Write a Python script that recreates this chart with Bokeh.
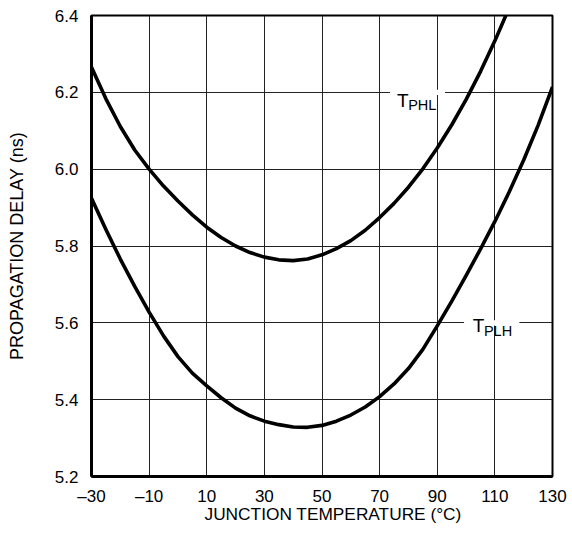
from bokeh.plotting import figure
from bokeh.models import FixedTicker, Label, BoxAnnotation, Range1d, Title
from bokeh.embed import file_html
from bokeh.resources import INLINE

# T_PHL curve
temps_phl = [-30, -25, -20, -15, -10, -5, 0, 5, 10, 15, 20, 25, 30, 35, 40, 45, 50,
             55, 60, 65, 70, 75, 80, 85, 90, 95, 100, 105, 110, 113.8]
delay_phl = [6.265, 6.183, 6.111, 6.050, 6.000, 5.956, 5.917, 5.881, 5.849, 5.822, 5.800,
             5.783, 5.771, 5.764, 5.762, 5.766, 5.777, 5.793, 5.814, 5.841, 5.874, 5.911,
             5.953, 6.001, 6.055, 6.115, 6.181, 6.254, 6.334, 6.400]

# T_PLH curve
temps_plh = [-30, -25, -20, -15, -10, -5, 0, 5, 10, 15, 20, 25, 30, 35, 40, 45, 50,
             55, 60, 65, 70, 75, 80, 85, 90, 95, 100, 105, 110, 115, 120, 125, 130]
delay_plh = [5.924, 5.843, 5.766, 5.695, 5.628, 5.566, 5.512, 5.469, 5.436, 5.405, 5.378,
             5.358, 5.344, 5.335, 5.329, 5.328, 5.333, 5.344, 5.360, 5.381, 5.408, 5.441,
             5.481, 5.531, 5.592, 5.656, 5.723, 5.792, 5.864, 5.941, 6.024, 6.114, 6.214]

x_ticks = [-30, -10, 10, 30, 50, 70, 90, 110, 130]
x_tick_labels = ["\u201330", "\u201310", "10", "30", "50", "70", "90", "110", "130"]
y_ticks = [5.2, 5.4, 5.6, 5.8, 6.0, 6.2, 6.4]
y_tick_labels = ["5.2", "5.4", "5.6", "5.8", "6.0", "6.2", "6.4"]

x_title = "JUNCTION TEMPERATURE (\u00b0C)"
y_title = "PROPAGATION DELAY (ns)"

FONT = "Liberation Sans"

p = figure(width=570, height=536, output_backend="svg", toolbar_location=None,
           x_range=Range1d(-30, 130), y_range=Range1d(5.2, 6.4),
           min_border_left=91, min_border_right=18, min_border_top=15, min_border_bottom=60)

p.xaxis.ticker = FixedTicker(ticks=x_ticks)
p.yaxis.ticker = FixedTicker(ticks=y_ticks)
p.xaxis.major_label_overrides = {t: l for t, l in zip(x_ticks, x_tick_labels)}
p.yaxis.major_label_overrides = {t: l for t, l in zip(y_ticks, y_tick_labels)}

for ax in (p.xaxis, p.yaxis):
    ax.major_tick_out = 0
    ax.major_tick_in = 0
    ax.minor_tick_out = 0
    ax.minor_tick_in = 0
    ax.axis_line_width = 3
    ax.axis_line_color = "black"
    ax.major_label_text_font = FONT
    ax.major_label_text_font_size = "17px"
    ax.major_label_text_color = "black"
    ax.axis_label_text_font = FONT
    ax.axis_label_text_font_size = "18px"
    ax.axis_label_text_font_style = "normal"
    ax.axis_label_text_color = "black"

p.yaxis.axis_label = y_title
p.xaxis.major_label_standoff = 10
p.yaxis.major_label_standoff = 13
p.yaxis.axis_label_standoff = 25

# x axis title, placed slightly right of centre as in the original
p.add_layout(Title(text=x_title, align="left", offset=113, standoff=-13,
                   text_font=FONT, text_font_size="17.3px", text_font_style="normal",
                   text_color="black"), "below")

p.grid.grid_line_color = "#222222"
p.grid.grid_line_width = 1
p.grid.grid_line_alpha = 1.0

p.outline_line_color = "black"
p.outline_line_width = 2
p.outline_line_alpha = 1.0

p.line(temps_phl, delay_phl, line_color="black", line_width=3.6, line_join="round")
p.line(temps_plh, delay_plh, line_color="black", line_width=3.6, line_join="round")

# label gaps in grid lines
p.add_layout(BoxAnnotation(left=73.6, right=92.7, bottom=6.193, top=6.207,
                           fill_color="white", fill_alpha=1.0, line_alpha=0))
p.add_layout(BoxAnnotation(left=99.3, right=118.5, bottom=5.593, top=5.607,
                           fill_color="white", fill_alpha=1.0, line_alpha=0))

def sub_label(x, y, main, sub):
    p.add_layout(Label(x=x, y=y, text=main, text_font=FONT, text_font_size="19px",
                       text_baseline="alphabetic", text_align="left", text_color="black"))
    p.add_layout(Label(x=x + 3.9, y=y - 0.013, text=sub, text_font=FONT, text_font_size="14.5px",
                       text_baseline="alphabetic", text_align="left", text_color="black"))

sub_label(76.0, 6.180, "T", "PHL")
sub_label(102.3, 5.592, "T", "PLH")

open("out.html", "w").write(file_html(p, INLINE))
